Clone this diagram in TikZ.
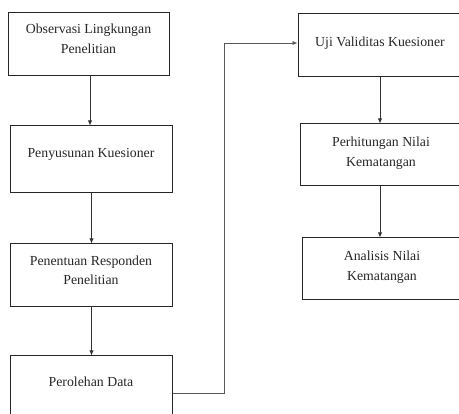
\documentclass[tikz,border=0pt]{standalone}
\usepackage{fontspec}
\setmainfont{Liberation Serif}
\usetikzlibrary{arrows.meta,calc}
\begin{document}
\begin{tikzpicture}[x=1pt,y=1pt,
  box/.style={draw=black!85,line width=1pt,rectangle,inner sep=0pt},
  txt/.style={align=center,font=\fontsize{13.8}{19.5}\selectfont,text=black!85,inner sep=0pt},
  arr/.style={draw=black!80,line width=0.9pt,-{Latex[length=5pt,width=4.5pt]}}]
\useasboundingbox (0,0) rectangle (459,-414);
\clip (0,0) rectangle (459,-414);
% left column
\node[box,minimum width=161pt,minimum height=63pt] (b1) at (88.5,-44.5) {};
\node[txt] (t1) at ([yshift=5.5pt]b1.center) {Observasi Lingkungan\\Penelitian};
\node[box,minimum width=162pt,minimum height=67pt] (b2) at (91,-159.5) {};
\node[txt] (t2) at ([yshift=5.5pt]b2.center) {Penyusunan Kuesioner};
\node[box,minimum width=162pt,minimum height=63pt] (b3) at (91,-275.5) {};
\node[txt] (t3) at ([yshift=5pt]b3.center) {Penentuan Responden\\Penelitian};
\node[box,minimum width=162pt,minimum height=63pt] (b4) at (91,-387.5) {};
\node[txt] (t4) at ([yshift=5.5pt]b4.center) {Perolehan Data};
% right column
\node[box,minimum width=164pt,minimum height=63pt] (b5) at (380,-45.5) {};
\node[txt] (t5) at ([yshift=2.5pt]b5.center) {Uji Validitas Kuesioner};
\node[box,minimum width=162pt,minimum height=62pt] (b6) at (381,-155) {};
\node[txt] (t6) at ([yshift=2pt]b6.center) {Perhitungan Nilai\\Kematangan};
\node[box,minimum width=160pt,minimum height=62pt] (b7) at (382,-269) {};
\node[txt] (t7) at ([yshift=2pt]b7.center) {Analisis Nilai\\Kematangan};
% connectors
\coordinate (c1) at (90,0);
\coordinate (c2) at (91.5,0);
\coordinate (c3) at (380,0);
\draw[arr] (c1 |- b1.south) -- (c1 |- b2.north);
\draw[arr] (c2 |- b2.south) -- (c2 |- b3.north);
\draw[arr] (c2 |- b3.south) -- (c2 |- b4.north);
\draw[arr] (c3 |- b5.south) -- (c3 |- b6.north);
\draw[arr] (c3 |- b6.south) -- (c3 |- b7.north);
\coordinate (s4) at ([yshift=-5.5pt]b4.east);
\coordinate (e5) at ([yshift=2.5pt]b5.west);
\coordinate (k) at (224,0);
\draw[arr,draw=black!65] (s4) -- (k |- s4) -- (k |- e5) -- (e5);
\end{tikzpicture}
\end{document}
